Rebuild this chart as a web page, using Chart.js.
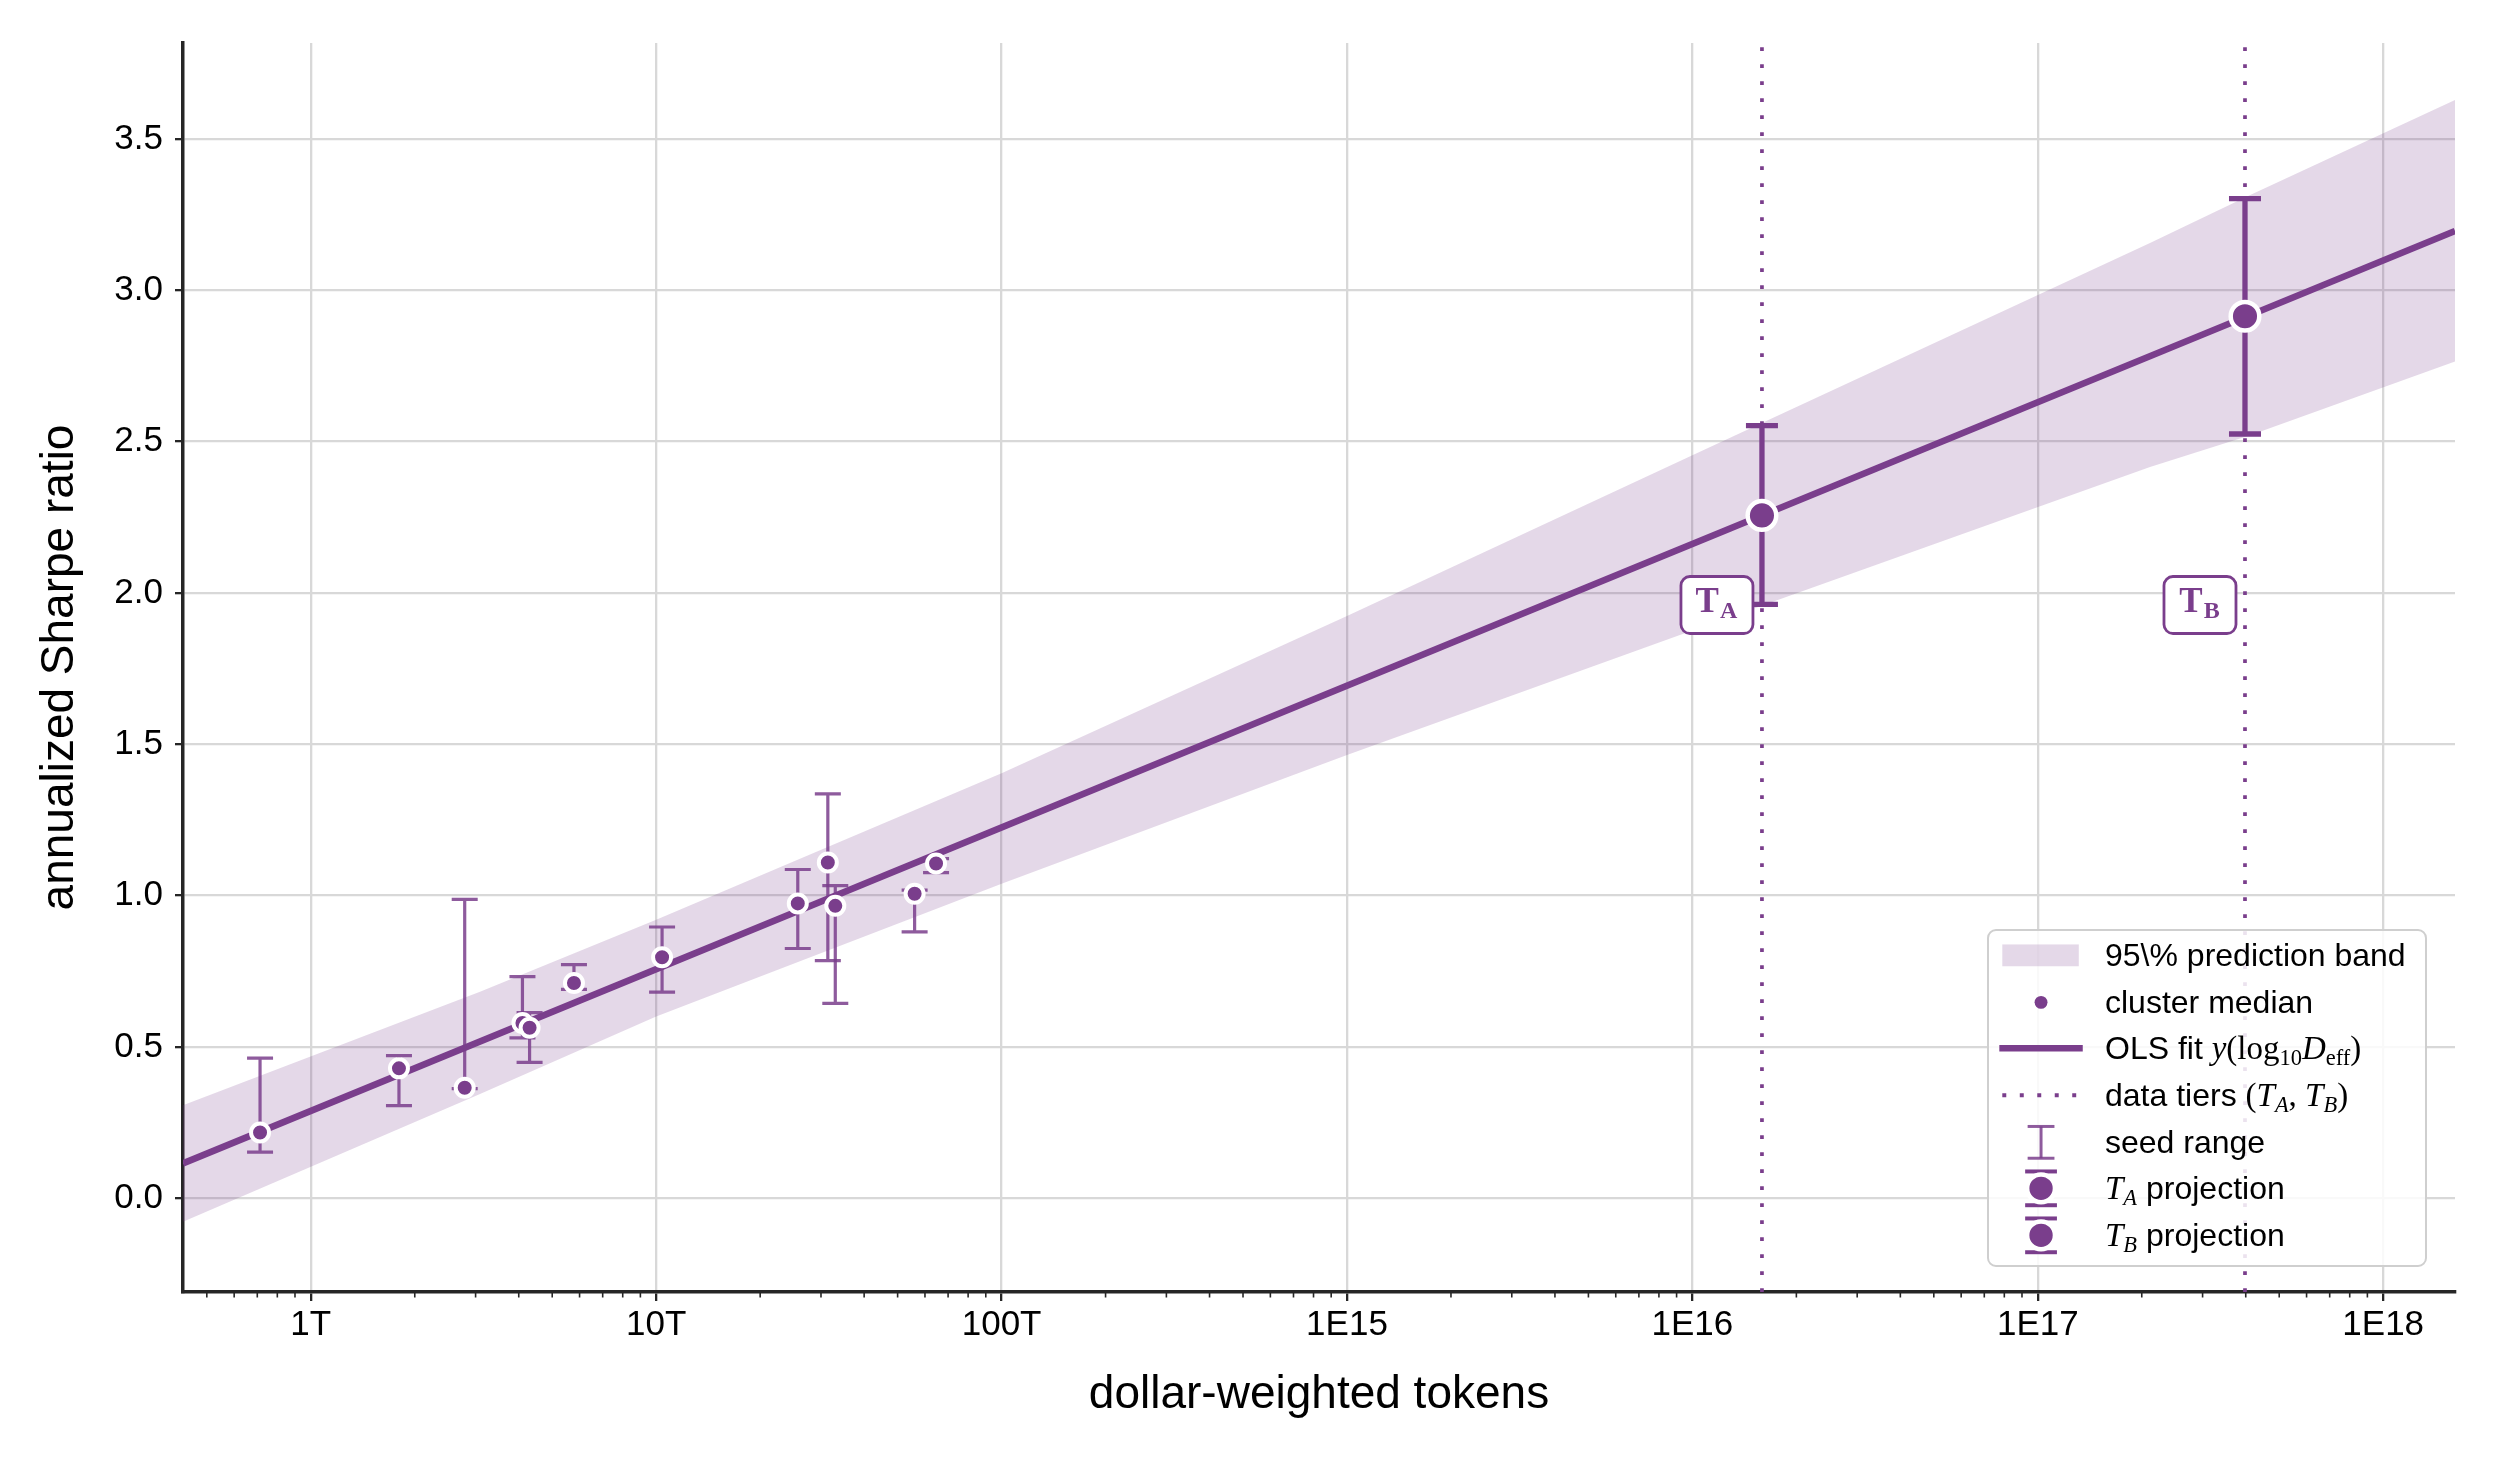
<!DOCTYPE html>
<html>
<head>
<meta charset="utf-8">
<script src="https://cdn.jsdelivr.net/npm/chart.js@4.4.1/dist/chart.umd.min.js"></script>
<style>
    html, body { margin: 0; padding: 0; background: #fff; }
    #wrap { position: relative; width: 2496px; height: 1460px; }
    #legend {
        position: absolute; box-sizing: border-box; width: 440px; height: 338px;
        padding-top: 1px; border: 2px solid #cfcfcf; border-radius: 9px;
        background: rgba(255, 255, 255, 0.85);
        font-family: "Liberation Sans", Arial, Helvetica, sans-serif; font-size: 32px; color: #000;
    }
    .row { display: flex; align-items: center; height: 46.7px; white-space: nowrap; }
    .row svg { flex: none; width: 116px; height: 46.7px; }
    .m { font-family: "Liberation Serif", "DejaVu Serif", serif; font-size: 33px; }
    .m sub { font-size: 0.68em; vertical-align: -0.28em; line-height: 0; }
</style>
</head>
<body>
<div id="wrap">
    <canvas id="chart"></canvas>
    <div id="legend">
        <div class="row"><svg viewBox="0 0 116 47"><rect x="13" y="12.5" width="77" height="22" fill="rgba(122,62,140,0.2)"/></svg><span>95\% prediction band</span></div>
        <div class="row"><svg viewBox="0 0 116 47"><circle cx="52" cy="23.5" r="6.5" fill="#7a3e8c"/></svg><span>cluster median</span></div>
        <div class="row"><svg viewBox="0 0 116 47"><line x1="10" y1="23.5" x2="94" y2="23.5" stroke="#7a3e8c" stroke-width="6.5"/></svg><span>OLS fit <span class="m"><i>y</i>(log<sub>10</sub><i>D</i><sub>eff</sub>)</span></span></div>
        <div class="row"><svg viewBox="0 0 116 47"><line x1="13" y1="23.5" x2="88" y2="23.5" stroke="#7a3e8c" stroke-width="4" stroke-dasharray="4 13.6"/></svg><span>data tiers <span class="m">(<i>T<sub>A</sub></i>, <i>T<sub>B</sub></i>)</span></span></div>
        <div class="row"><svg viewBox="0 0 116 47"><g stroke="rgba(122,62,140,0.85)" stroke-width="3"><line x1="52" y1="7.5" x2="52" y2="39.5"/><line x1="38.5" y1="7.5" x2="65.5" y2="7.5"/><line x1="38.5" y1="39.5" x2="65.5" y2="39.5"/></g></svg><span>seed range</span></div>
        <div class="row"><svg viewBox="0 0 116 47"><g stroke="#7a3e8c" stroke-width="4"><line x1="36" y1="6.5" x2="68" y2="6.5"/><line x1="36" y1="40.5" x2="68" y2="40.5"/></g><circle cx="52" cy="23.5" r="14" fill="#7a3e8c" stroke="#fff" stroke-width="4.5"/></svg><span><span class="m"><i>T<sub>A</sub></i></span> projection</span></div>
        <div class="row"><svg viewBox="0 0 116 47"><g stroke="#7a3e8c" stroke-width="4"><line x1="36" y1="6.5" x2="68" y2="6.5"/><line x1="36" y1="40.5" x2="68" y2="40.5"/></g><circle cx="52" cy="23.5" r="14" fill="#7a3e8c" stroke="#fff" stroke-width="4.5"/></svg><span><span class="m"><i>T<sub>B</sub></i></span> projection</span></div>
    </div>
</div>
<script>
// cluster medians with seed ranges
const clusterTokens = [0.713e12, 1.80e12, 2.79e12, 4.10e12, 4.30e12, 5.78e12, 10.4e12, 25.7e12, 31.4e12, 33.0e12, 56.0e12, 64.6e12]
const clusterSharpe = [0.217, 0.429, 0.365, 0.579, 0.563, 0.711, 0.796, 0.974, 1.109, 0.966, 1.006, 1.106]
const seedLow = [0.152, 0.306, 0.362, 0.530, 0.449, 0.690, 0.681, 0.825, 0.785, 0.644, 0.880, 1.076]
const seedHigh = [0.463, 0.471, 0.987, 0.732, 0.613, 0.772, 0.896, 1.086, 1.336, 1.033, 1.018, 1.122]

// data tiers and their projections
const tierNames = ['A', 'B']
const tierTokens = [1.59e16, 3.98e17]
const tierSharpe = [2.256, 2.914]
const tierLow = [1.962, 2.525]
const tierHigh = [2.553, 3.303]

// OLS fit line and 95% prediction band
const fitTokens = [4.266e11, 1.614e18]
const fitSharpe = [0.115, 3.196]
const bandTokens = [4.266e11, 3.09e12, 1e13, 1e14, 1e15, 1e16, 2.113e17, 4.121e17, 1.614e18]
const bandUpper = [0.307, 0.682, 0.920, 1.404, 1.924, 2.455, 3.156, 3.315, 3.629]
const bandLower = [-0.078, 0.344, 0.600, 1.039, 1.464, 1.876, 2.416, 2.521, 2.765]

// axes
const xMin = 4.266e11
const xMax = 1.614e18
const yMin = -0.31
const yMax = 3.817
const xTickValues = [1e12, 1e13, 1e14, 1e15, 1e16, 1e17, 1e18]
const xTickLabels = ['1T', '10T', '100T', '1E15', '1E16', '1E17', '1E18']
const yTickValues = [0, 0.5, 1, 1.5, 2, 2.5, 3, 3.5]

const PURPLE = '#7a3e8c'
const PURPLE_SOFT = 'rgba(122,62,140,0.85)'
const BAND = 'rgba(122,62,140,0.2)'
const SPINE = '#262626'
const GRID = '#d8d8d8'

Chart.defaults.font.family = '"Liberation Sans", Arial, Helvetica, sans-serif'
Chart.defaults.color = '#000'

const toPoints = (xs, ys) => xs.map((x, i) => ({x: x, y: ys[i]}))

const errorBarPlugin = {
    id: 'errorBars',
    beforeDatasetDraw(chart, args) {
        const dataset = chart.data.datasets[args.index]
        const bars = dataset.errorBars
        if (!bars) return
        const {ctx, chartArea, scales: {x, y}} = chart
        ctx.save()
        ctx.beginPath()
        ctx.rect(chartArea.left, chartArea.top, chartArea.width, chartArea.height)
        ctx.clip()
        ctx.strokeStyle = bars.color
        ctx.lineWidth = bars.width
        ctx.lineCap = 'butt'
        dataset.data.forEach((point, i) => {
            const px = x.getPixelForValue(point.x)
            const lo = y.getPixelForValue(bars.low[i])
            const hi = y.getPixelForValue(bars.high[i])
            const half = bars.cap / 2
            ctx.beginPath()
            ctx.moveTo(px, lo)
            ctx.lineTo(px, hi)
            ctx.moveTo(px - half, lo)
            ctx.lineTo(px + half, lo)
            ctx.moveTo(px - half, hi)
            ctx.lineTo(px + half, hi)
            ctx.stroke()
        })
        ctx.restore()
    }
}

const minorTickPlugin = {
    id: 'minorTicks',
    afterDraw(chart) {
        const scale = chart.scales.x
        const ctx = chart.ctx
        const lo = Math.floor(Math.log10(scale.min))
        const hi = Math.ceil(Math.log10(scale.max))
        ctx.save()
        ctx.strokeStyle = SPINE
        ctx.lineWidth = 1.6
        for (let d = lo; d < hi; d++) {
            for (let k = 2; k < 10; k++) {
                const v = k * Math.pow(10, d)
                if (v < scale.min || v > scale.max) continue
                const px = scale.getPixelForValue(v)
                ctx.beginPath()
                ctx.moveTo(px, scale.top)
                ctx.lineTo(px, scale.top + 5.5)
                ctx.stroke()
            }
        }
        ctx.restore()
    }
}

const tierLabelPlugin = {
    id: 'tierLabels',
    afterDatasetsDraw(chart, args, opts) {
        const {ctx, scales: {x, y}} = chart
        tierTokens.forEach((value, i) => {
            const px = x.getPixelForValue(value)
            const py = y.getPixelForValue(opts.y)
            const w = 72, h = 57
            const left = px - 9 - w
            const top = py - h / 2
            ctx.save()
            ctx.beginPath()
            ctx.roundRect(left, top, w, h, 9)
            ctx.fillStyle = '#fff'
            ctx.fill()
            ctx.lineWidth = 2.8
            ctx.strokeStyle = PURPLE
            ctx.stroke()

            ctx.fillStyle = PURPLE
            ctx.textBaseline = 'alphabetic'
            ctx.textAlign = 'left'
            const bigFont = 'bold 35px "Liberation Serif", "DejaVu Serif", serif'
            const subFont = 'bold 24px "Liberation Serif", "DejaVu Serif", serif'
            ctx.font = bigFont
            const wT = ctx.measureText('T').width
            ctx.font = subFont
            const wS = ctx.measureText(tierNames[i]).width
            const x0 = left + (w - (wT + wS)) / 2 - 1
            const base = top + 35
            ctx.font = bigFont
            ctx.fillText('T', x0, base)
            ctx.font = subFont
            ctx.fillText(tierNames[i], x0 + wT + 1, base + 6.7)
            ctx.restore()
        })
    }
}

const htmlLegendPlugin = {
    id: 'htmlLegend',
    afterLayout(chart) {
        const el = document.getElementById('legend')
        const area = chart.chartArea
        el.style.left = (area.right - 468) + 'px'
        el.style.top = (area.bottom - 363) + 'px'
    }
}

const tierLines = tierTokens.map((value) => ({
    label: 'data tier',
    data: [{x: value, y: yMin}, {x: value, y: yMax}],
    showLine: true,
    borderColor: PURPLE,
    borderWidth: 3.7,
    borderDash: [3.7, 13.3],
    borderCapStyle: 'butt',
    pointRadius: 0,
    order: 4
}))

new Chart(document.getElementById('chart'), {
    type: 'scatter',
    data: {
        datasets: [
            {
                label: 'projection',
                data: toPoints(tierTokens, tierSharpe),
                pointRadius: 14.3,
                pointBorderWidth: 4.5,
                pointBackgroundColor: PURPLE,
                pointBorderColor: '#fff',
                errorBars: {low: tierLow, high: tierHigh, width: 5.3, cap: 32, color: PURPLE},
                order: 0
            },
            {
                label: 'cluster median',
                data: toPoints(clusterTokens, clusterSharpe),
                pointRadius: 9,
                pointBorderWidth: 4,
                pointBackgroundColor: PURPLE,
                pointBorderColor: '#fff',
                errorBars: {low: seedLow, high: seedHigh, width: 3.2, cap: 26, color: PURPLE_SOFT},
                order: 1
            },
            {
                label: 'OLS fit',
                data: toPoints(fitTokens, fitSharpe),
                showLine: true,
                borderColor: PURPLE,
                borderWidth: 6.5,
                pointRadius: 0,
                order: 3
            },
            ...tierLines,
            {
                label: 'band upper',
                data: toPoints(bandTokens, bandUpper),
                showLine: true,
                borderColor: 'transparent',
                borderWidth: 0,
                pointRadius: 0,
                backgroundColor: BAND,
                fill: '+1',
                order: 5
            },
            {
                label: 'band lower',
                data: toPoints(bandTokens, bandLower),
                showLine: true,
                borderColor: 'transparent',
                borderWidth: 0,
                pointRadius: 0,
                fill: false,
                order: 6
            }
        ]
    },
    options: {
        responsive: true,
        maintainAspectRatio: false,
        devicePixelRatio: 1,
        animation: false,
        events: [],
        layout: {padding: {top: 43, right: 41, left: 0, bottom: 0}},
        scales: {
            x: {
                type: 'logarithmic',
                min: xMin,
                max: xMax,
                afterBuildTicks: (scale) => {
                    scale.ticks = xTickValues.map((v) => ({value: v, major: true}))
                },
                afterFit: (scale) => { scale.height = 168 },
                ticks: {
                    callback: (value, index) => xTickLabels[index],
                    autoSkip: false,
                    maxRotation: 0,
                    minRotation: 0,
                    padding: 3,
                    font: {size: 35},
                    color: '#000'
                },
                grid: {color: GRID, lineWidth: 2.3, tickLength: 9, tickColor: SPINE, tickWidth: 2.3},
                border: {display: true, color: SPINE, width: 3.5},
                title: {
                    display: true,
                    text: 'dollar-weighted tokens',
                    font: {size: 46},
                    color: '#000',
                    padding: {top: 0, bottom: 37}
                }
            },
            y: {
                min: yMin,
                max: yMax,
                afterBuildTicks: (scale) => {
                    scale.ticks = yTickValues.map((v) => ({value: v}))
                },
                afterFit: (scale) => { scale.width = 183 },
                ticks: {
                    callback: (value) => Number(value).toFixed(1),
                    padding: 12,
                    font: {size: 35},
                    color: '#000'
                },
                grid: {color: GRID, lineWidth: 2.3, tickLength: 8, tickColor: SPINE, tickWidth: 2.3},
                border: {display: true, color: SPINE, width: 3.5},
                title: {
                    display: true,
                    text: 'annualized Sharpe ratio',
                    font: {size: 46},
                    color: '#000',
                    padding: {top: 33, bottom: 0}
                }
            }
        },
        plugins: {
            legend: {display: false},
            tooltip: {enabled: false},
            tierLabels: {y: 1.96}
        }
    },
    plugins: [errorBarPlugin, minorTickPlugin, tierLabelPlugin, htmlLegendPlugin]
})
</script>
</body>
</html>
